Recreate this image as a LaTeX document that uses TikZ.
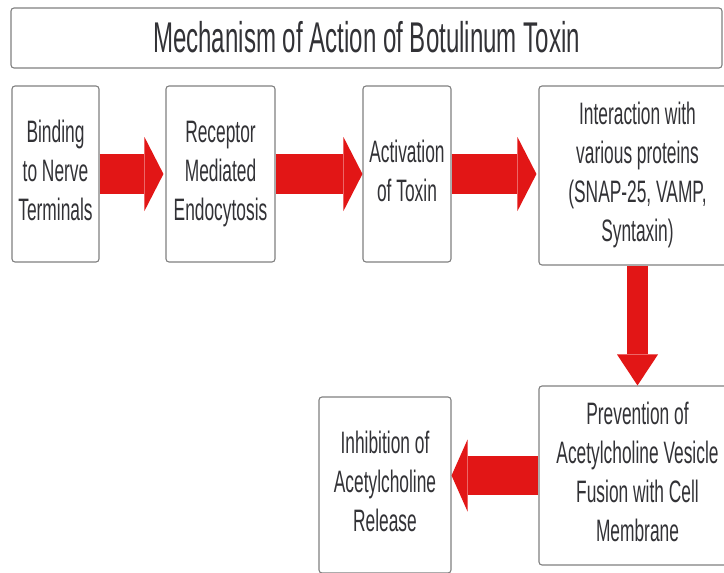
\documentclass[tikz,border=0pt]{standalone}
\usepackage{fontspec}
\setmainfont{Liberation Sans}[FakeStretch=0.56]
\usetikzlibrary{arrows.meta}
\definecolor{arrowred}{RGB}{226,22,22}
\definecolor{boxline}{RGB}{128,128,128}
\definecolor{inktext}{RGB}{50,50,54}

\begin{document}
\begin{tikzpicture}[x=1pt,y=-1pt]
\tikzset{
% boxes of the chain and the title bar
stepbox/.style={draw=boxline,line width=1.1pt,rounded corners=3pt,fill=white,
  align=center,text=inktext,inner sep=0pt,text depth=6.5pt,
  font=\fontsize{31}{39}\selectfont},
titlebox/.style={stepbox,text depth=2pt,font=\fontsize{43}{50}\selectfont},
% fat red arrows between the boxes
flow/.style={draw=arrowred,line width=40pt,
  -{Triangle[length=19pt,width=74pt,line width=0pt]}},
flow down/.style={draw=arrowred,line width=21pt,
  -{Triangle[length=31pt,width=41pt,line width=0pt]}}
}
\useasboundingbox (0,0) rectangle (724,573);
\clip (0,0) rectangle (724,573);
\fill[white] (0,0) rectangle (724,573);

% The title
\node[titlebox,minimum width=711pt,minimum height=60pt] (title) at (366.5,38) {Mechanism of Action of Botulinum Toxin};

% The steps
\node[stepbox,minimum width=87pt,minimum height=176pt] (bind) at (55.5,174) {Binding\\to Nerve\\Terminals};
\node[stepbox,minimum width=109pt,minimum height=176pt] (recep) at (220.5,174) {Receptor\\Mediated\\Endocytosis};
\node[stepbox,minimum width=88pt,minimum height=176pt] (activ) at (407,174) {Activation\\of Toxin};
\node[stepbox,minimum width=197pt,minimum height=179pt] (inter) at (637.5,175.5) {Interaction with\\various proteins\\(SNAP-25, VAMP,\\Syntaxin)};
\node[stepbox,minimum width=197pt,minimum height=179pt] (prev) at (637.5,475.5) {Prevention of\\Acetylcholine Vesicle\\Fusion with Cell\\Membrane};
\node[stepbox,minimum width=132pt,minimum height=176pt] (inhib) at (385,485) {Inhibition of\\Acetylcholine\\Release};

% arrows
\draw[flow,shorten >=2pt] (bind.east) -- (recep.west);
\draw[flow] (recep.east) -- (activ.west);
\draw[flow,shorten >=2pt] (activ.east) -- (activ.east -| inter.west);
\draw[flow down] (inter.south) -- (prev.north);
\draw[flow,-{Triangle[length=16pt,width=72pt,line width=0pt]},line width=39pt] (prev.west) -- (prev.west -| inhib.east);
\end{tikzpicture}
\end{document}
